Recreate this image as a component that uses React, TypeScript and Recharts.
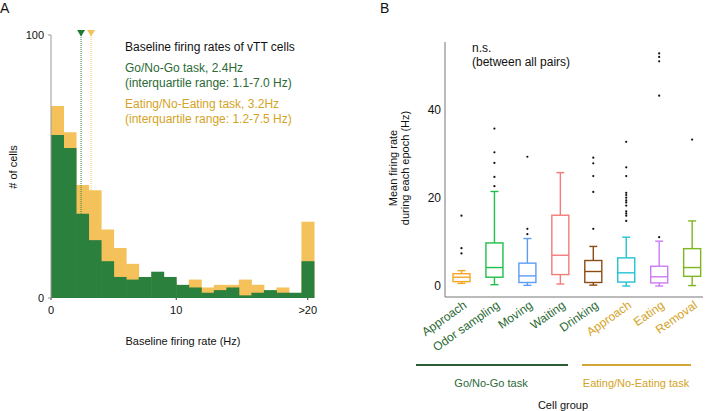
import React from "react";
import {
  ComposedChart,
  Bar,
  Scatter,
  XAxis,
  YAxis,
  ReferenceLine,
  ReferenceDot,
} from "recharts";

// ---- panel A: baseline firing rate histogram ----
const BINS = [
  "0", "1", "2", "3", "4", "5", "6", "7", "8", "9", "10",
  "11", "12", "13", "14", "15", "16", "17", "18", "19", ">20",
];
const BIN_MIDS = [
  0.5, 1.5, 2.5, 3.5, 4.5, 5.5, 6.5, 7.5, 8.5, 9.5, 10.5,
  11.5, 12.5, 13.5, 14.5, 15.5, 16.5, 17.5, 18.5, 19.5, 20.5,
];
const GO_COUNTS = [62, 57, 32, 22, 14, 8, 7, 8, 10, 8, 5, 4, 2, 3, 4, 1, 2, 3, 2, 2, 14];
const EAT_COUNTS = [73, 63, 43, 41, 26, 19, 13, 7, 6, 6, 4, 7, 4, 5, 5, 7, 5, 2, 4, 1, 29];
const GO_MEDIAN = 2.4;
const EAT_MEDIAN = 3.2;
const GO_MEDIAN_BAR = 32; // height of the bar under the median marker
const EAT_MEDIAN_BAR = 41;
const HIST_TICKS = [0, 10, 20.5];

// ---- panel B: box plots per cell group ----
const CELL_GROUPS = [
  "Approach", "Odor sampling", "Moving", "Waiting", "Drinking",
  "Approach", "Eating", "Removal",
];
const GROUP_TASK = ["go", "go", "go", "go", "go", "eat", "eat", "eat"];
const WHISKER_LOW = [0.6, 0.3, 0.15, 0.45, 0.2, 0.0, 0.0, 0.1];
const Q1 = [1.0, 2.0, 0.8, 2.6, 0.8, 0.9, 0.7, 2.2];
const MEDIAN = [2.0, 4.2, 2.3, 7.0, 3.3, 3.0, 2.1, 4.2];
const Q3 = [2.8, 9.8, 5.2, 16.1, 5.8, 6.4, 4.5, 8.5];
const WHISKER_HIGH = [3.5, 21.5, 10.8, 25.8, 9.0, 11.1, 10.2, 14.8];
const OUTLIERS = [
  [16.0, 8.6, 7.4],
  [35.8, 30.4, 28.0, 24.8, 22.7],
  [29.4, 13.0, 11.8],
  [],
  [29.2, 27.9, 25.0, 21.4, 13.0],
  [32.8, 27.0, 25.0, 21.2, 20.7, 20.1, 19.5, 19.0, 18.3, 17.0, 16.5, 16.0, 14.8],
  [52.9, 52.1, 51.1, 43.3, 11.1],
  [33.3],
];
const RATE_TICKS = [0, 10, 20, 30, 40, 50];

const GREEN = "#2a803c";
const YELLOW = "#f4c15b";
const DARK_GREEN_TEXT = "#2b6a35";
const GOLD_TEXT = "#d4a325";
const BOX_COLORS = [
  "#f5a623", "#1fbf4c", "#5c9cf5", "#f57a7a",
  "#8c4b12", "#22c3d1", "#cc7af5", "#7fb51f",
];
const FONT = "'Liberation Sans', Arial, sans-serif";

const histData = BINS.map((bin, i) => ({
  bin,
  mid: BIN_MIDS[i],
  go: GO_COUNTS[i],
  eat: EAT_COUNTS[i],
}));

const boxData = CELL_GROUPS.map((name, i) => ({
  pos: i + 1,
  name,
  range: [WHISKER_LOW[i], WHISKER_HIGH[i]],
  low: WHISKER_LOW[i],
  q1: Q1[i],
  med: MEDIAN[i],
  q3: Q3[i],
  high: WHISKER_HIGH[i],
}));

const outlierData = OUTLIERS.flatMap((vals, i) => vals.map((v) => ({ pos: i + 1, v })));

// plain positioned text
function Txt({ x, y, children, color = "#111", size = 12, rotate = 0, center = false }: any) {
  const tx = center ? "-50%" : "0";
  return (
    <div
      style={{
        position: "absolute",
        left: x,
        top: y,
        transform: `translate(${tx}, -50%) rotate(${rotate}deg)`,
        color,
        fontSize: size,
        whiteSpace: "nowrap",
        lineHeight: 1,
        fontFamily: FONT,
      }}
    >
      {children}
    </div>
  );
}

const Triangle = (color: string) => (props: any) => {
  const { cx, cy } = props;
  return (
    <path d={`M${cx - 4},${cy - 5} L${cx + 4},${cy - 5} L${cx},${cy + 1.5} Z`} fill={color} />
  );
};

// whole box-and-whisker drawn from the [low, high] range bar
const BoxShape = (props: any) => {
  const { x, y, width, height, payload, index } = props;
  const top = Math.min(y, y + height);
  const span = Math.abs(height);
  const { low, high, q1, med, q3 } = payload;
  const py = (v: number) => (high === low ? top : top + ((high - v) / (high - low)) * span);
  const cx = x + width / 2;
  const color = BOX_COLORS[index % BOX_COLORS.length];
  const cap = 4;
  return (
    <g stroke={color} strokeWidth={1.4} fill="none">
      <line x1={cx} x2={cx} y1={py(high)} y2={py(q3)} />
      <line x1={cx} x2={cx} y1={py(q1)} y2={py(low)} />
      <line x1={cx - cap} x2={cx + cap} y1={py(high)} y2={py(high)} />
      <line x1={cx - cap} x2={cx + cap} y1={py(low)} y2={py(low)} />
      <rect x={x} y={py(q3)} width={width} height={py(q1) - py(q3)} fill="#fff" />
      <line x1={x} x2={x + width} y1={py(med)} y2={py(med)} />
    </g>
  );
};

const Dot = (props: any) => {
  const { cx, cy } = props;
  return <circle cx={cx} cy={cy} r={1.1} fill="#111" />;
};

const GroupTick = (props: any) => {
  const { x, y, payload } = props;
  const i = Math.round(payload.value) - 1;
  const color = GROUP_TASK[i] === "go" ? DARK_GREEN_TEXT : GOLD_TEXT;
  const ax = x + 6;
  const ay = y + 10;
  return (
    <text
      x={ax}
      y={ay}
      textAnchor="end"
      fill={color}
      fontSize={12}
      fontFamily={FONT}
      transform={`rotate(-35 ${ax} ${ay})`}
    >
      {CELL_GROUPS[i]}
    </text>
  );
};

function HistogramPanel() {
  return (
    <div style={{ position: "absolute", left: 0, top: 0 }}>
      <ComposedChart
        width={330}
        height={411}
        data={histData}
        barCategoryGap={0}
        barGap={0}
        margin={{ top: 35, right: 16, bottom: 93, left: 0 }}
      >
        <XAxis
          xAxisId="n"
          dataKey="mid"
          type="number"
          domain={[0, 21]}
          allowDataOverflow
          ticks={HIST_TICKS}
          interval={0}
          tickFormatter={(v) => (v > 20 ? ">20" : String(v))}
          axisLine={false}
          tickLine={{ stroke: "#333" }}
          tickSize={2}
          tickMargin={6}
          height={20}
          tick={{ fontSize: 11, fill: "#111", fontFamily: FONT }}
        />
        <XAxis xAxisId="eat" dataKey="bin" type="category" hide height={0} />
        <XAxis xAxisId="go" dataKey="bin" type="category" hide height={0} />
        <YAxis
          width={51}
          domain={[0, 100]}
          ticks={[0, 100]}
          axisLine={{ stroke: "#999" }}
          tickLine={{ stroke: "#999" }}
          tickSize={3}
          tickMargin={4}
          tick={{ fontSize: 11, fill: "#111", fontFamily: FONT }}
        />
        <Bar xAxisId="eat" dataKey="eat" fill={YELLOW} isAnimationActive={false} />
        <Bar xAxisId="go" dataKey="go" fill={GREEN} isAnimationActive={false} />
        <ReferenceLine
          xAxisId="n"
          segment={[{ x: GO_MEDIAN, y: 100 }, { x: GO_MEDIAN, y: GO_MEDIAN_BAR }]}
          stroke={GREEN}
          strokeDasharray="1 1"
          ifOverflow="visible"
        />
        <ReferenceLine
          xAxisId="n"
          segment={[{ x: EAT_MEDIAN, y: 100 }, { x: EAT_MEDIAN, y: EAT_MEDIAN_BAR }]}
          stroke={YELLOW}
          strokeDasharray="1 1"
          ifOverflow="visible"
        />
        <ReferenceDot xAxisId="n" x={GO_MEDIAN} y={100} ifOverflow="visible" shape={Triangle("#1f7a33")} />
        <ReferenceDot xAxisId="n" x={EAT_MEDIAN} y={100} ifOverflow="visible" shape={Triangle(YELLOW)} />
      </ComposedChart>
    </div>
  );
}

function BoxPanel() {
  return (
    <div style={{ position: "absolute", left: 360, top: 0 }}>
      <ComposedChart
        width={348}
        height={411}
        data={boxData}
        margin={{ top: 42, right: 5, bottom: 54, left: 0 }}
      >
        <XAxis
          dataKey="pos"
          type="number"
          domain={[0.5, 8.33]}
          allowDataOverflow
          ticks={[1, 2, 3, 4, 5, 6, 7, 8]}
          interval={0}
          axisLine={{ stroke: "#777" }}
          tickLine={false}
          tickSize={0}
          tickMargin={0}
          height={60}
          tick={<GroupTick />}
        />
        <XAxis
          xAxisId="m"
          dataKey="pos"
          type="number"
          domain={[0.5, 8.33]}
          allowDataOverflow
          ticks={[1, 2, 3, 4, 5, 6, 7, 8]}
          interval={0}
          mirror
          axisLine={false}
          tick={false}
          tickLine={{ stroke: "#777" }}
          tickSize={3}
        />
        <YAxis
          width={85}
          domain={[-2.5, 55.5]}
          allowDataOverflow
          ticks={RATE_TICKS}
          interval={0}
          tickFormatter={(v) => (v % 20 === 0 ? String(v) : "")}
          axisLine={{ stroke: "#777" }}
          tickLine={false}
          tickSize={0}
          tickMargin={4}
          tick={{ fontSize: 12, fill: "#111", fontFamily: FONT }}
        />
        <YAxis
          yAxisId="m"
          domain={[-2.5, 55.5]}
          allowDataOverflow
          ticks={RATE_TICKS}
          interval={0}
          mirror
          axisLine={false}
          tick={false}
          tickLine={{ stroke: "#777" }}
          tickSize={3}
        />
        <Bar dataKey="range" barSize={17} shape={<BoxShape />} isAnimationActive={false} />
        <Scatter data={outlierData} dataKey="v" shape={<Dot />} isAnimationActive={false} />
      </ComposedChart>
    </div>
  );
}

export default function App() {
  return (
    <div
      style={{
        position: "fixed",
        left: 0,
        top: 0,
        width: 708,
        height: 411,
        background: "#fff",
        fontFamily: FONT,
        overflow: "hidden",
      }}
    >
      <HistogramPanel />
      <BoxPanel />

      {/* panel A labels */}
      <Txt x={0} y={8} size={14}>A</Txt>
      <Txt x={125} y={47}>Baseline firing rates of vTT cells</Txt>
      <Txt x={125} y={68} color={DARK_GREEN_TEXT}>Go/No-Go task, 2.4Hz</Txt>
      <Txt x={125} y={83} color={DARK_GREEN_TEXT}>(interquartile range: 1.1-7.0 Hz)</Txt>
      <Txt x={125} y={104} color={GOLD_TEXT}>Eating/No-Eating task, 3.2Hz</Txt>
      <Txt x={125} y={119} color={GOLD_TEXT}>(interquartile range: 1.2-7.5 Hz)</Txt>
      <Txt x={13} y={167} size={11} rotate={-90} center>
        # of cells
      </Txt>
      <Txt x={183} y={341} size={11} center>
        Baseline firing rate (Hz)
      </Txt>

      {/* panel B labels */}
      <Txt x={380} y={8} size={14}>B</Txt>
      <Txt x={472} y={48} size={12}>n.s.</Txt>
      <Txt x={472} y={62} size={12}>(between all pairs)</Txt>
      <Txt x={393} y={168} size={11} rotate={-90} center>
        Mean firing rate
      </Txt>
      <Txt x={405} y={168} size={11} rotate={-90} center>
        during each epoch (Hz)
      </Txt>
      <div style={{ position: "absolute", left: 416, top: 364, width: 152, height: 2, background: "#2d5d36" }} />
      <div style={{ position: "absolute", left: 582, top: 364, width: 109, height: 2, background: "#d4a537" }} />
      <Txt x={491} y={383} size={11} color={DARK_GREEN_TEXT} center>
        Go/No-Go task
      </Txt>
      <Txt x={636} y={383} size={11} color={GOLD_TEXT} center>
        Eating/No-Eating task
      </Txt>
      <Txt x={563} y={405} size={11} center>
        Cell group
      </Txt>
    </div>
  );
}
